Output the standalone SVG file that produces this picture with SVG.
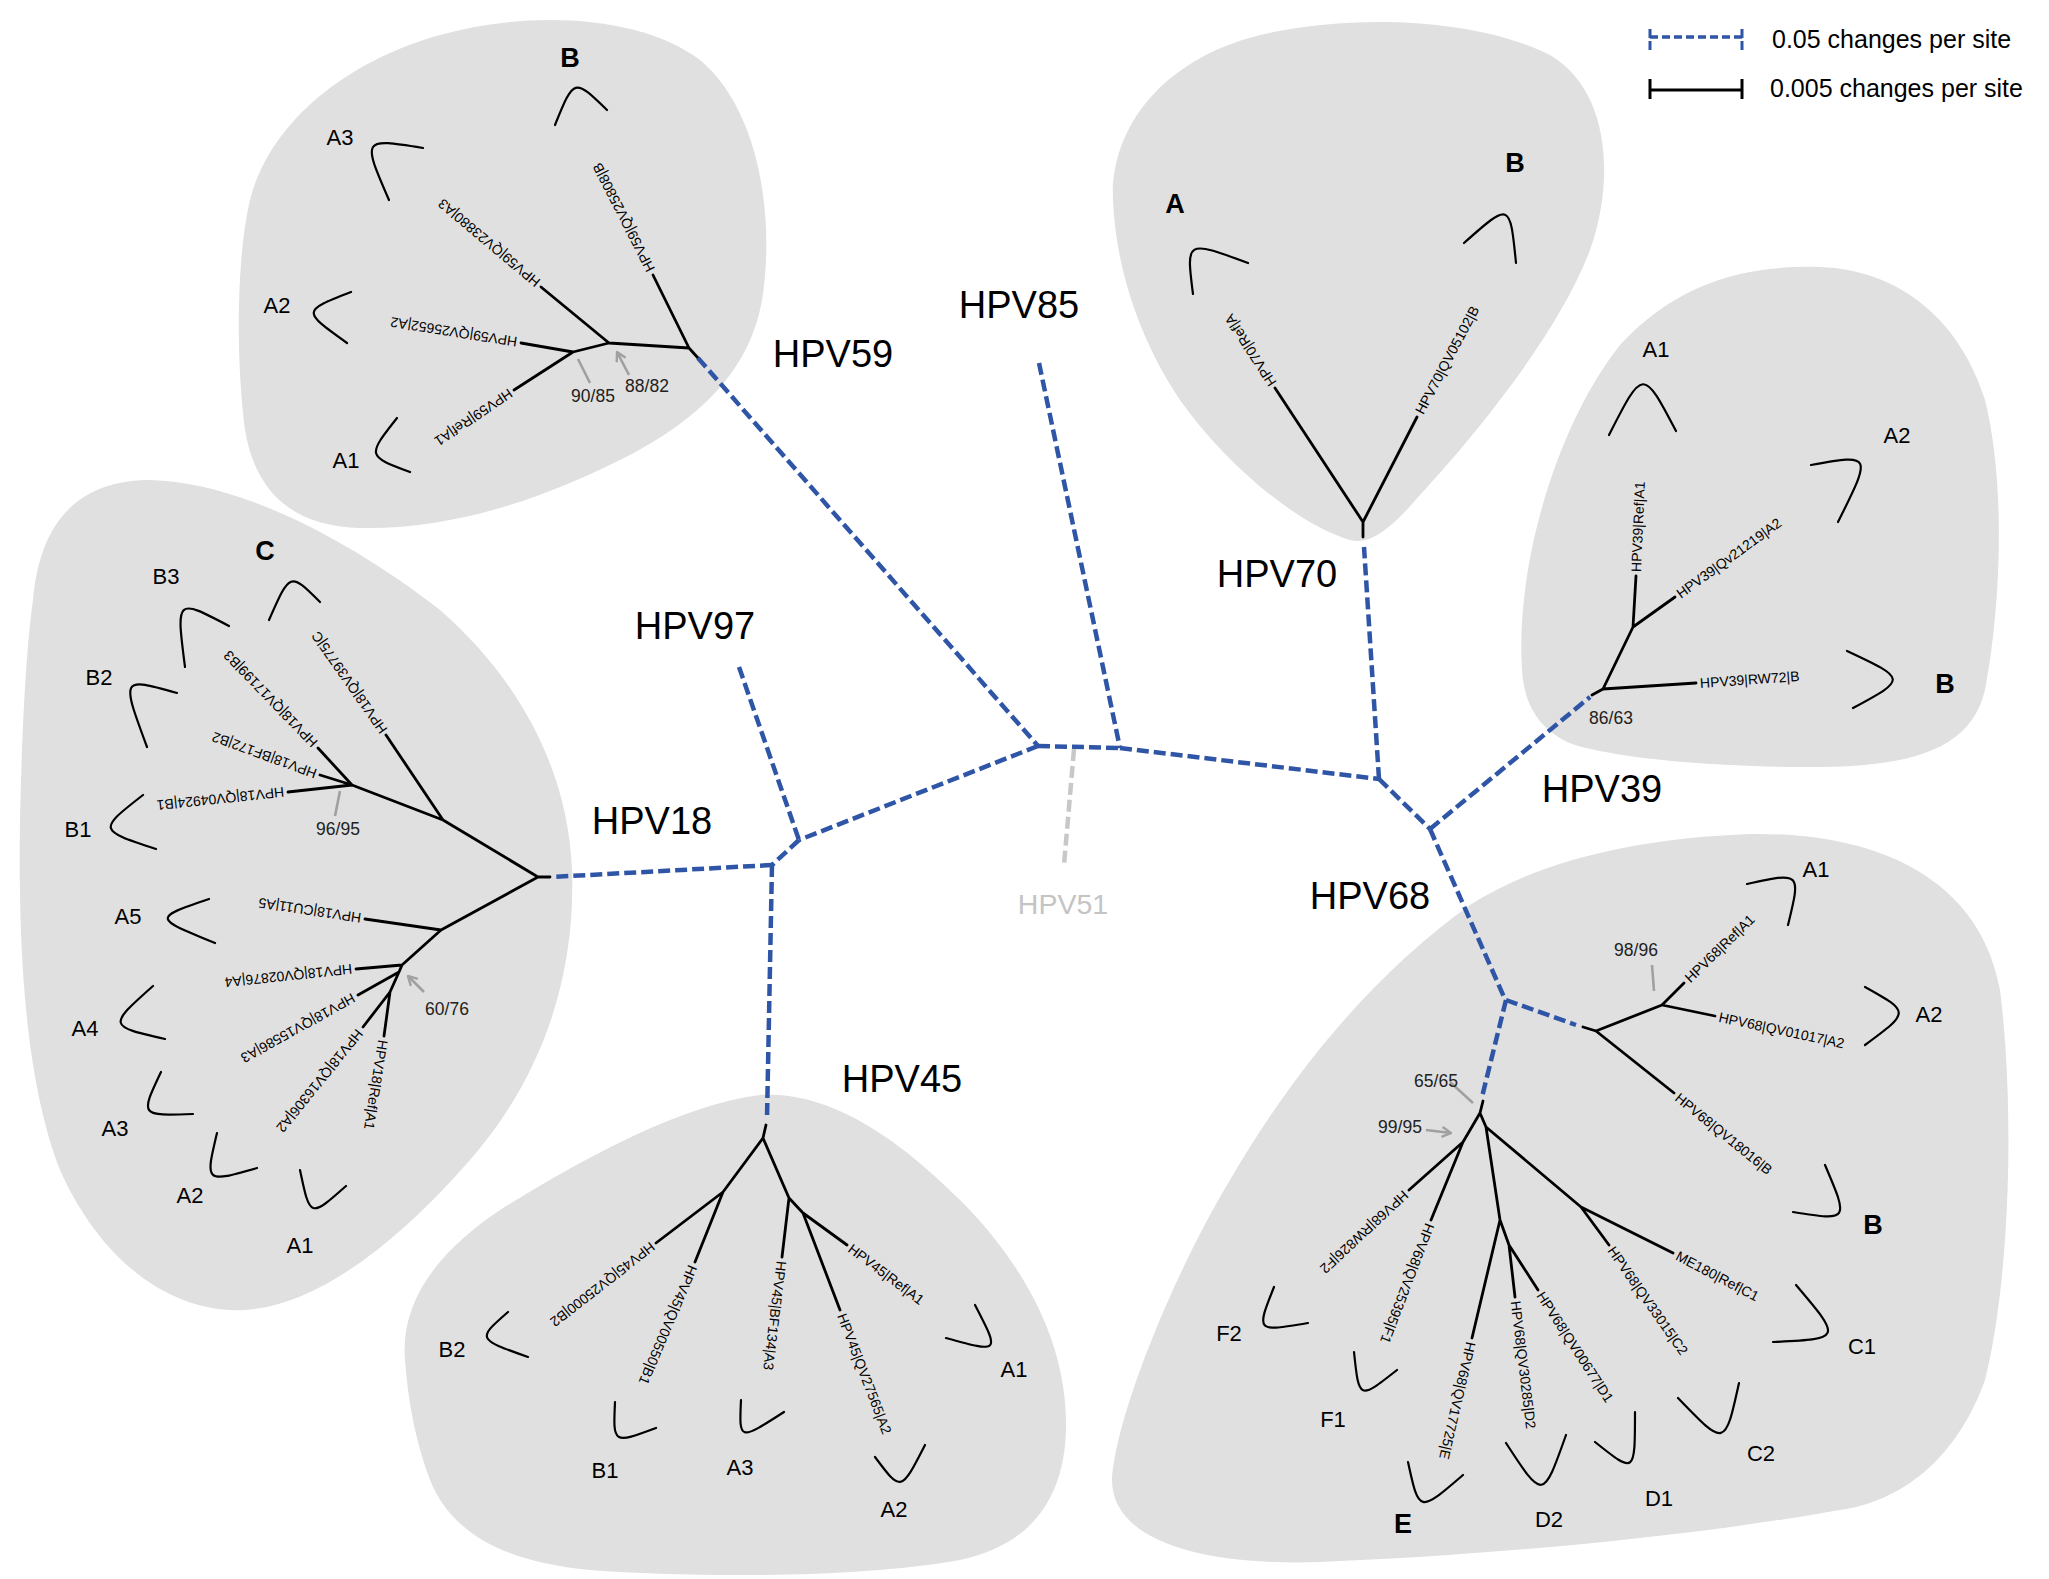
<svg xmlns="http://www.w3.org/2000/svg" width="2049" height="1579" viewBox="0 0 2049 1579">
<style>
text{font-family:"Liberation Sans",Arial,sans-serif;}
.blob{fill:#e0e0e0;stroke:none;}
.tr{stroke:#000;stroke-width:2.8;fill:none;stroke-linecap:round;}
.br{stroke:#000;stroke-width:2.2;fill:none;stroke-linecap:round;}
.bb{stroke:#2f55a6;stroke-width:4.5;fill:none;stroke-dasharray:12 5;}
.g51{stroke:#c8c8c8;stroke-width:4.5;fill:none;stroke-dasharray:12 5;}
.lf{font-size:14px;fill:#000;}
.sc{font-size:22px;fill:#000;text-anchor:middle;}
.bd{font-size:27px;font-weight:bold;fill:#000;text-anchor:middle;}
.big{font-size:38px;fill:#000;text-anchor:middle;}
.bs{font-size:17.5px;fill:#222;text-anchor:middle;}
.ar{stroke:#a0a0a0;stroke-width:2.6;fill:none;}
.lg{font-size:25px;fill:#000;}
</style>
<defs>
<marker id="ah" viewBox="0 0 12 12" refX="11" refY="6" markerWidth="12" markerHeight="12" markerUnits="userSpaceOnUse" orient="auto">
<path d="M2,1 L11,6 L2,11" fill="none" stroke="#a0a0a0" stroke-width="2.4" stroke-linejoin="miter"/>
</marker>
</defs>
<rect width="2049" height="1579" fill="#fff"/>

<!-- HPV59 clade -->
<g id="clade-HPV59">
<path class="blob" d="M250,200 C270,120 350,60 440,35 C530,10 640,15 700,60 C760,110 775,220 762,300 C750,370 700,420 620,460 C540,500 450,530 360,528 C290,526 255,490 245,430 C236,360 236,260 250,200 Z"/>
<path class="tr" d="M698,358 L689,348 M689,348 L653,275 M689,348 L609,343 M609,343 L541,287 M609,343 L573,352 M573,352 L521,343 M573,352 L514,390"/>
<text class="lf" dy=".35em" transform="translate(651,271) rotate(-117)">HPV59|QV25808|B</text>
<text class="lf" dy=".35em" transform="translate(538,284) rotate(-140)">HPV59|QV23880|A3</text>
<text class="lf" dy=".35em" transform="translate(517,342) rotate(-171)">HPV59|QV25652|A2</text>
<text class="lf" dy=".35em" transform="translate(511,392) rotate(146)">HPV59|Ref|A1</text>
<path class="br" d="M555,125 C574,78 574,78 607,110 M423,148 C362,138 362,138 389,200 M351,292 C302,311 302,311 347,343 M397,418 C367,456 367,456 410,472"/>
<text class="bd" x="570" y="67">B</text>
<text class="sc" x="340" y="145">A3</text>
<text class="sc" x="277" y="313">A2</text>
<text class="sc" x="346" y="468">A1</text>
<path class="ar" marker-end="url(#ah)" d="M590,383 L578,359 M629,375 L617,352"/>
<text class="bs" x="593" y="402">90/85</text>
<text class="bs" x="647" y="392">88/82</text>
</g>

<!-- HPV18 clade -->
<g id="clade-HPV18">
<path class="blob" d="M33,600 C40,520 80,480 150,480 C240,482 350,540 440,610 C520,680 568,770 572,870 C576,980 540,1080 470,1160 C400,1240 320,1305 245,1310 C170,1314 100,1260 60,1170 C25,1080 18,950 20,820 C22,730 26,650 33,600 Z"/>
<path class="tr" d="M550,877 L538,877 M538,877 L443,820 M443,820 L386,735 M443,820 L352,785 M352,785 L318,748 M352,785 L320,775 M352,785 L288,792 M538,877 L441,930 M441,930 L365,919 M441,930 L402,965 M402,965 L356,969 M402,965 L399,972 M399,972 L358,995 M399,972 L390,992 M390,992 L363,1027 M390,992 L384,1036"/>
<text class="lf" dy=".35em" transform="translate(384,732) rotate(-125)">HPV18|QV39775|C</text>
<text class="lf" dy=".35em" transform="translate(315,745) rotate(-134)">HPV18|QV17199|B3</text>
<text class="lf" dy=".35em" transform="translate(316,774) rotate(-160)">HPV18|BF172|B2</text>
<text class="lf" dy=".35em" transform="translate(284,792) rotate(174)">HPV18|QV04924|B1</text>
<text class="lf" dy=".35em" transform="translate(361,918) rotate(-171.5)">HPV18|CU11|A5</text>
<text class="lf" dy=".35em" transform="translate(352,969) rotate(174)">HPV18|QV02876|A4</text>
<text class="lf" dy=".35em" transform="translate(354,997) rotate(151)">HPV18|QV15586|A3</text>
<text class="lf" dy=".35em" transform="translate(360,1031) rotate(129)">HPV18|QV16306|A2</text>
<text class="lf" dy=".35em" transform="translate(383,1040) rotate(99)">HPV18|Ref|A1</text>
<path class="br" d="M269,620 C290,572 290,572 320,602 M229,626 C176,598 176,598 185,667 M177,693 C121,677 121,677 147,747 M143,795 C98,830 98,830 156,849 M209,899 C153,918 153,918 215,943 M153,986 C108,1026 108,1026 165,1039 M161,1072 C140,1116 140,1116 193,1114 M217,1133 C205,1183 205,1183 257,1168 M300,1170 C310,1218 310,1218 346,1186"/>
<text class="bd" x="265" y="560">C</text>
<text class="sc" x="166" y="584">B3</text>
<text class="sc" x="99" y="685">B2</text>
<text class="sc" x="78" y="837">B1</text>
<text class="sc" x="128" y="924">A5</text>
<text class="sc" x="85" y="1036">A4</text>
<text class="sc" x="115" y="1136">A3</text>
<text class="sc" x="190" y="1203">A2</text>
<text class="sc" x="300" y="1253">A1</text>
<path class="ar" marker-end="url(#ah)" d="M335,816 L340,791 M424,992 L408,976"/>
<text class="bs" x="338" y="835">96/95</text>
<text class="bs" x="447" y="1015">60/76</text>
</g>

<!-- HPV45 clade -->
<g id="clade-HPV45">
<path class="blob" d="M405,1360 C400,1300 440,1250 500,1210 C580,1160 680,1105 760,1095 C830,1090 900,1140 960,1200 C1030,1270 1068,1350 1066,1430 C1064,1500 1030,1545 960,1560 C860,1578 700,1578 590,1570 C500,1562 450,1530 430,1480 C415,1440 408,1400 405,1360 Z"/>
<path class="tr" d="M766,1125 L763,1138 M763,1138 L723,1192 M763,1138 L789,1198 M723,1192 L656,1243 M723,1192 L695,1262 M789,1198 L782,1257 M789,1198 L803,1213 M803,1213 L840,1310 M803,1213 L847,1245"/>
<text class="lf" dy=".35em" transform="translate(653,1245) rotate(142)">HPV45|QV25000|B2</text>
<text class="lf" dy=".35em" transform="translate(693,1266) rotate(113)">HPV45|QV00550|B1</text>
<text class="lf" dy=".35em" transform="translate(781.5,1261) rotate(97)">HPV45|BF134|A3</text>
<text class="lf" dy=".35em" transform="translate(841.5,1314) rotate(69)">HPV45|QV27565|A2</text>
<text class="lf" dy=".35em" transform="translate(850,1247) rotate(37)">HPV45|Ref|A1</text>
<path class="br" d="M508,1312 C477,1339 477,1339 528,1357 M615,1402 C613,1444 613,1444 656,1428 M741,1400 C739,1441 739,1441 784,1412 M875,1457 C901,1492 901,1492 925,1445 M975,1305 C1000,1353 1000,1353 946,1338"/>
<text class="sc" x="452" y="1357">B2</text>
<text class="sc" x="605" y="1478">B1</text>
<text class="sc" x="740" y="1475">A3</text>
<text class="sc" x="894" y="1517">A2</text>
<text class="sc" x="1014" y="1377">A1</text>
</g>

<!-- HPV68 clade -->
<g id="clade-HPV68">
<path class="blob" d="M1112,1480 C1115,1420 1170,1280 1230,1180 C1300,1060 1380,970 1470,905 C1540,860 1640,838 1750,834 C1880,832 1980,880 2000,990 C2015,1110 2010,1280 1985,1380 C1960,1450 1910,1500 1840,1510 C1700,1535 1500,1555 1320,1562 C1200,1566 1112,1540 1112,1480 Z"/>
<path class="tr" d="M1583,1027 L1596,1031 M1596,1031 L1662,1005 M1662,1005 L1684,983 M1662,1005 L1715,1016 M1596,1031 L1674,1093 M1483,1101 L1480,1113 M1480,1113 L1463,1142 M1480,1113 L1486,1127 M1486,1127 L1581,1207 M1486,1127 L1500,1220 M1463,1142 L1409,1190 M1463,1142 L1431,1220 M1581,1207 L1673,1253 M1581,1207 L1609,1245 M1500,1220 L1472,1338 M1500,1220 L1509,1245 M1509,1245 L1515,1297 M1509,1245 L1538,1290"/>
<text class="lf" dy=".35em" transform="translate(1687,980) rotate(-44)">HPV68|Ref|A1</text>
<text class="lf" dy=".35em" transform="translate(1719,1017) rotate(12)">HPV68|QV01017|A2</text>
<text class="lf" dy=".35em" transform="translate(1677,1096) rotate(39)">HPV68|QV18016|B</text>
<text class="lf" dy=".35em" transform="translate(1406,1193) rotate(137)">HPV68|RW826|F2</text>
<text class="lf" dy=".35em" transform="translate(1430,1224) rotate(111)">HPV68|QV25395|F1</text>
<text class="lf" dy=".35em" transform="translate(1677,1255) rotate(27.5)">ME180|Ref|C1</text>
<text class="lf" dy=".35em" transform="translate(1611,1248) rotate(55)">HPV68|QV33015|C2</text>
<text class="lf" dy=".35em" transform="translate(1471,1342) rotate(103)">HPV68|QV17725|E</text>
<text class="lf" dy=".35em" transform="translate(1515.5,1301) rotate(83)">HPV68|QV30285|D2</text>
<text class="lf" dy=".35em" transform="translate(1540,1293) rotate(57)">HPV68|QV00677|D1</text>
<path class="br" d="M1747,884 C1801,872 1801,872 1788,925 M1865,987 C1910,1012 1910,1012 1865,1045 M1825,1165 C1849,1221 1849,1221 1793,1212 M1796,1285 C1842,1339 1842,1339 1773,1342 M1678,1398 C1725,1447 1725,1447 1739,1383 M1595,1442 C1635,1474 1635,1474 1635,1412 M1506,1443 C1543,1500 1543,1500 1566,1435 M1408,1462 C1419,1513 1419,1513 1463,1475 M1354,1352 C1359,1400 1359,1400 1397,1370 M1274,1287 C1256,1332 1256,1332 1308,1323"/>
<text class="sc" x="1816" y="877">A1</text>
<text class="sc" x="1929" y="1022">A2</text>
<text class="bd" x="1873" y="1234">B</text>
<text class="sc" x="1862" y="1354">C1</text>
<text class="sc" x="1761" y="1461">C2</text>
<text class="sc" x="1659" y="1506">D1</text>
<text class="sc" x="1549" y="1527">D2</text>
<text class="bd" x="1403" y="1533">E</text>
<text class="sc" x="1333" y="1427">F1</text>
<text class="sc" x="1229" y="1341">F2</text>
<path class="ar" marker-end="url(#ah)" d="M1652,965 L1654,991 M1450,1082 L1473,1103 M1426,1130 L1451,1133"/>
<text class="bs" x="1636" y="956">98/96</text>
<text class="bs" x="1436" y="1087">65/65</text>
<text class="bs" x="1400" y="1133">99/95</text>
</g>

<!-- HPV39 clade -->
<g id="clade-HPV39">
<path class="blob" d="M1522,670 C1515,560 1560,420 1620,345 C1680,280 1750,265 1820,267 C1900,270 1960,320 1985,400 C2005,480 2002,600 1985,690 C1970,755 1900,768 1800,767 C1700,766 1620,758 1575,745 C1540,732 1524,705 1522,670 Z"/>
<path class="tr" d="M1592,695 L1603,689 M1603,689 L1633,627 M1633,627 L1636,576 M1633,627 L1675,597 M1603,689 L1696,683"/>
<text class="lf" dy=".35em" transform="translate(1636,572) rotate(-87.5)">HPV39|Ref|A1</text>
<text class="lf" dy=".35em" transform="translate(1678,595) rotate(-36)">HPV39|Qv21219|A2</text>
<text class="lf" dy=".35em" transform="translate(1700,683) rotate(-4)">HPV39|RW72|B</text>
<path class="br" d="M1609,435 C1643,368 1643,368 1676,431 M1811,465 C1872,454 1872,454 1838,522 M1847,651 C1907,679 1907,679 1853,708"/>
<text class="sc" x="1656" y="357">A1</text>
<text class="sc" x="1897" y="443">A2</text>
<text class="bd" x="1945" y="693">B</text>
<text class="bs" x="1611" y="724">86/63</text>
</g>

<!-- HPV70 clade -->
<g id="clade-HPV70">
<path class="blob" d="M1113,200 C1110,130 1160,60 1260,35 C1360,12 1480,20 1550,55 C1610,90 1615,180 1590,250 C1560,330 1480,430 1420,495 C1390,530 1370,545 1350,540 C1300,525 1230,470 1180,400 C1140,340 1116,270 1113,200 Z"/>
<path class="tr" d="M1363,537 L1363,522 M1363,522 L1275,388 M1363,522 L1417,417"/>
<text class="lf" dy=".35em" transform="translate(1273,385) rotate(-123)">HPV70|Ref|A</text>
<text class="lf" dy=".35em" transform="translate(1419,413) rotate(-62)">HPV70|QV05102|B</text>
<path class="br" d="M1193,294 C1186,240 1186,240 1248,263 M1464,243 C1510,202 1510,202 1516,263"/>
<text class="bd" x="1175" y="213">A</text>
<text class="bd" x="1515" y="172">B</text>
</g>

<!-- backbone connectors -->
<g id="connectors">
<path class="bb" d="M698,358 L1038,746"/>
<path class="bb" d="M1039,363 L1120,748"/>
<path class="bb" d="M1038,746 L1120,748"/>
<path class="bb" d="M1038,746 L799,840"/>
<path class="bb" d="M739,667 L799,840"/>
<path class="bb" d="M799,840 L772,865"/>
<path class="bb" d="M772,865 L552,877"/>
<path class="bb" d="M772,865 L767,1118"/>
<path class="bb" d="M1120,748 L1379,779"/>
<path class="bb" d="M1379,779 L1364,547"/>
<path class="bb" d="M1379,779 L1430,829"/>
<path class="bb" d="M1430,829 L1590,697"/>
<path class="bb" d="M1430,829 L1504,997"/>
<path class="bb" d="M1506,1000 L1576,1025"/>
<path class="bb" d="M1506,1000 L1482,1097"/>
<path class="g51" d="M1074,749 L1064,865"/>
</g>

<!-- type labels -->
<g id="type-labels">
<text class="big" x="833" y="367">HPV59</text>
<text class="big" x="1019" y="318">HPV85</text>
<text class="big" x="1277" y="587">HPV70</text>
<text class="big" x="695" y="639">HPV97</text>
<text class="big" x="652" y="834">HPV18</text>
<text class="big" x="1370" y="909">HPV68</text>
<text class="big" x="1602" y="802">HPV39</text>
<text class="big" x="902" y="1092">HPV45</text>
<text x="1063" y="914" style="font-size:28.5px;fill:#c4c4c4;text-anchor:middle">HPV51</text>
</g>

<!-- legend -->
<g id="legend">
<path d="M1650,37 L1742,37" stroke="#2f55a6" stroke-width="3.5" stroke-dasharray="8 4" fill="none"/>
<path d="M1650,29 L1650,50 M1742,29 L1742,50" stroke="#2f55a6" stroke-width="3" stroke-dasharray="9 3" fill="none"/>
<text class="lg" x="1772" y="48">0.05 changes per site</text>
<path d="M1650,90 L1742,90 M1650,79 L1650,99 M1742,79 L1742,99" stroke="#000" stroke-width="3" fill="none"/>
<text class="lg" x="1770" y="97">0.005 changes per site</text>
</g>
</svg>
